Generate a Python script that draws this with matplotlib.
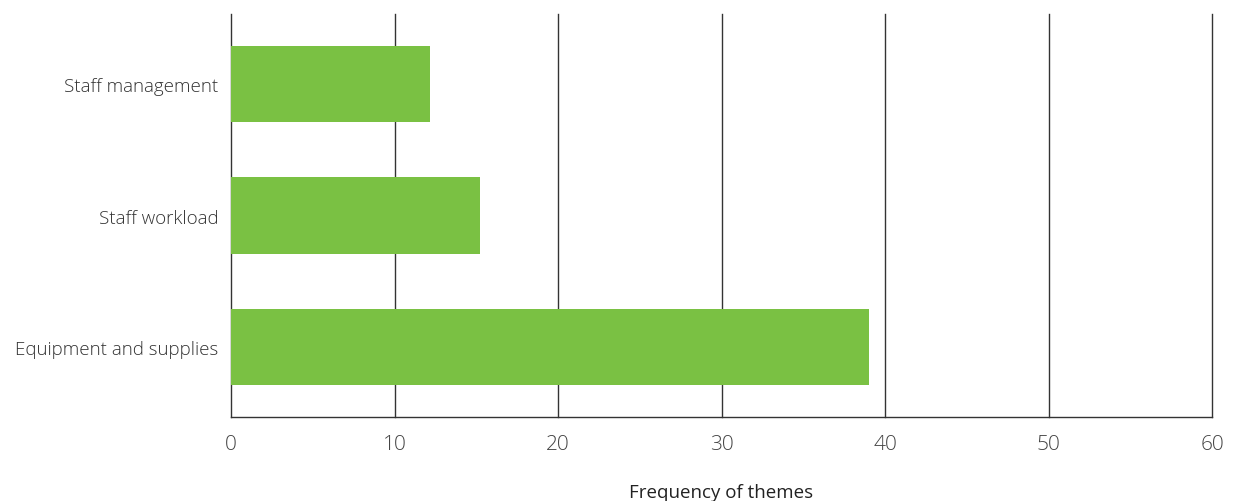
import numpy as np
import matplotlib.pyplot as plt

categories = ['Equipment and supplies', 'Staff workload', 'Staff management']
counts = [39, 15.2, 12.2]
xticks = [0, 10, 20, 30, 40, 50, 60]

plt.rcParams['font.family'] = ['Open Sans', 'DejaVu Sans']

fig = plt.figure(figsize=(12.34, 5.02), dpi=100)
ax = fig.add_axes([0.1872, 0.1673, 0.7950, 0.8028])

ypos = np.arange(len(categories))
ax.barh(ypos, counts, height=0.58, color='#7ac143', zorder=3)

ax.set_xlim(0, 60)
ax.set_ylim(-0.53, 2.53)
ax.set_xticks(xticks)
ax.set_xticklabels([str(t) for t in xticks], fontsize=15, fontweight='light', color='#444444')
ax.set_yticks(ypos)
ax.set_yticklabels(categories, fontsize=13.5, fontweight='light', color='#333333')
ax.tick_params(axis='both', length=0)
ax.tick_params(axis='x', pad=12)
ax.tick_params(axis='y', pad=9)

for t in xticks[1:]:
    ax.axvline(t, color='#333333', linewidth=1.0, zorder=1, clip_on=False)
for s in ['top', 'right']:
    ax.spines[s].set_visible(False)
for s in ['left', 'bottom']:
    ax.spines[s].set_color('#333333')
    ax.spines[s].set_linewidth(1.0)

ax.set_xlabel('Frequency of themes', fontsize=13.5, fontweight='medium', color='#222222')
ax.xaxis.set_label_coords(0.5, -0.163)

fig.savefig('out.png', dpi=100)
